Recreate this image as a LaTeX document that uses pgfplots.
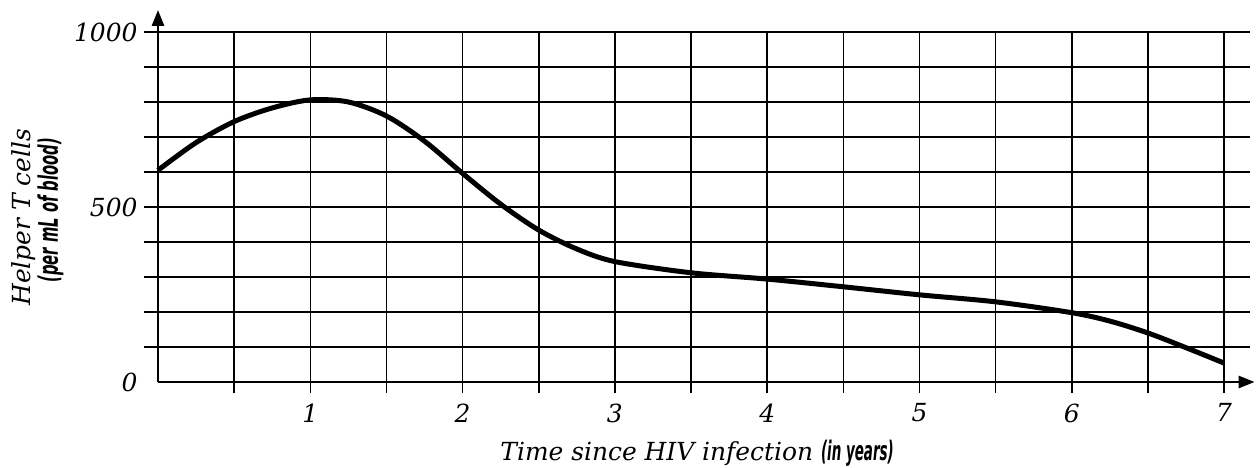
\documentclass[border=0pt]{standalone}
\usepackage{fontspec}
\usepackage{graphicx}
\setmainfont{DejaVu Serif}
\newfontfamily\condsans{DejaVu Sans}
\usepackage{pgfplots}
\pgfplotsset{compat=1.18}
\usetikzlibrary{arrows.meta}
\newcommand{\cond}[2][0.52]{\scalebox{#1}[1]{\condsans\bfseries\itshape\fontsize{27}{30}\selectfont #2}}
\begin{document}
\begin{tikzpicture}[x=1bp,y=1bp]
\useasboundingbox (-158,-86) rectangle (1100,382);
\begin{axis}[
  anchor=origin, at={(0,0)},
  x=152.3bp, y=0.35bp,
  xmin=0, xmax=7.17, ymin=0, ymax=1000,
  axis line style={draw=none},
  grid=major,
  major grid style={black, line width=1.6bp},
  xtick={0.5,1,...,7},
  xticklabels={,1,,2,,3,,4,,5,,6,,7},
  ytick={100,200,...,1000},
  yticklabels={,,,,500,,,,,1000},
  extra y ticks={0}, extra y tick labels={0},
  extra y tick style={grid=none, tick style={draw=none}},
  xtick pos=bottom, ytick pos=left,
  tick align=outside,
  major tick length=14bp,
  tick style={black, line width=1.6bp},
  xtick style={/pgfplots/major tick length=11bp},
  ticklabel style={font=\itshape\fontsize{25}{30}\selectfont},
  xticklabel style={yshift=-4bp},
  yticklabel style={xshift=-3bp},
  /pgf/number format/assume math mode=true,
  clip=false,
]
\end{axis}
\begin{axis}[
  anchor=origin, at={(0,0)},
  x=152.3bp, y=0.35bp,
  xmin=0, xmax=7.2, ymin=0, ymax=1063,
  axis lines=left,
  axis line style={black, line width=2.6bp, -{Triangle[length=16bp,width=12bp]}},
  xtick=\empty, ytick=\empty,
  clip=false,
]
\addplot[black, line width=5bp, smooth, tension=0.5] coordinates {
(0,605) (0.25,684) (0.5,744) (0.75,783) (1,806) (1.25,800) (1.5,760)
(1.75,688) (2,596) (2.25,508) (2.5,434) (2.75,380) (3,344) (3.5,312)
(4,294) (4.5,272) (5,249) (5.5,229) (6,198) (6.25,174) (6.5,140)
(6.75,98) (7,54)
};
\node[rotate=90, anchor=base, font=\itshape\fontsize{25}{30}\selectfont] at (axis cs:-0.834,471) {Helper T cells};
\node[rotate=90, anchor=base] at (axis cs:-0.657,491) {\cond[0.55]{(per mL of blood)}};
\node[anchor=base, font=\itshape\fontsize{25}{30}\selectfont] at (axis cs:3.54,-223) {Time since HIV infection \cond[0.5]{(in years)}};
\end{axis}
\end{tikzpicture}
\end{document}
